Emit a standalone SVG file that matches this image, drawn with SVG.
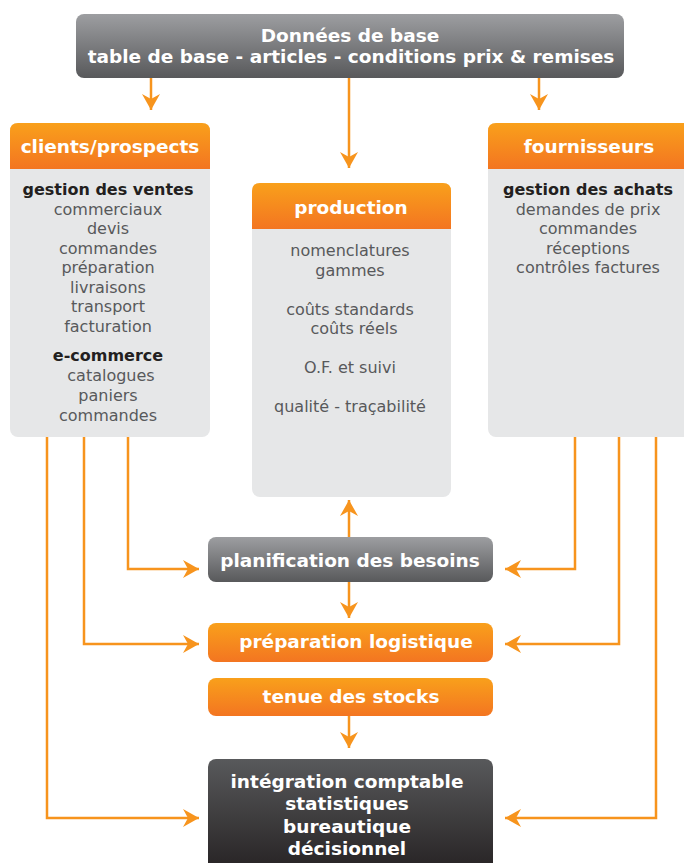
<svg xmlns="http://www.w3.org/2000/svg" width="684" height="863" viewBox="0 0 684 863">
<defs>
<linearGradient id="gOr" x1="0" y1="0" x2="0" y2="1"><stop offset="0" stop-color="#f9a01b"/><stop offset="1" stop-color="#f37521"/></linearGradient>
<linearGradient id="gGr" x1="0" y1="0" x2="0" y2="1"><stop offset="0" stop-color="#9d9ea1"/><stop offset="1" stop-color="#58595b"/></linearGradient>
<linearGradient id="gDk" x1="0" y1="0" x2="0" y2="1"><stop offset="0" stop-color="#58595b"/><stop offset="1" stop-color="#231f20"/></linearGradient>
<marker id="ah" markerUnits="userSpaceOnUse" markerWidth="20" markerHeight="20" viewBox="-17 -10 18 20" refX="0" refY="0" orient="auto">
<path d="M0,0 L-16,-9 L-11,0 L-16,9 Z" fill="#f7941d"/>
</marker>
</defs>
<style>
.t{font-family:"DejaVu Sans",Verdana,sans-serif;text-anchor:middle}
.h{font-weight:bold;font-size:18.5px;fill:#ffffff}
.b{font-weight:bold;font-size:16px;fill:#231f20}
.r{font-size:16px;fill:#58595b}
.body{fill:#e6e7e8}
.c{fill:none;stroke:#f7941d;stroke-width:2.5;marker-end:url(#ah)}
</style>
<g id="connectors">
<path class="c" d="M151,78 V110"/>
<path class="c" d="M349,78 V168"/>
<path class="c" d="M539,78 V110"/>
<path class="c" d="M349,537 V500"/>
<path class="c" d="M349,582 V618"/>
<path class="c" d="M349,716 V748"/>
<path class="c" d="M128,437 V569 H199"/>
<path class="c" d="M84,437 V644 H199"/>
<path class="c" d="M47,437 V818 H199"/>
<path class="c" d="M575,437 V569 H505"/>
<path class="c" d="M619,437 V644 H505"/>
<path class="c" d="M656,437 V818 H505"/>
</g>
<g id="donnees">
<rect x="76" y="14" width="548" height="64" rx="8" fill="url(#gGr)"/>
<text class="t h" x="350" y="42">Données de base</text>
<text class="t h" x="351" y="63">table de base - articles - conditions prix &amp; remises</text>
</g>
<g id="clients">
<rect class="body" x="10" y="123" width="200" height="314" rx="8"/>
<path d="M10,169 V131 Q10,123 18,123 H202 Q210,123 210,131 V169 Z" fill="url(#gOr)"/>
<text class="t h" x="110" y="153">clients/prospects</text>
<text class="t b" x="108" y="195">gestion des ventes</text>
<text class="t r" x="108" y="215">commerciaux</text>
<text class="t r" x="108" y="234">devis</text>
<text class="t r" x="108" y="254">commandes</text>
<text class="t r" x="108" y="273">préparation</text>
<text class="t r" x="108" y="293">livraisons</text>
<text class="t r" x="108" y="312">transport</text>
<text class="t r" x="108" y="332">facturation</text>
<text class="t b" x="108" y="361">e-commerce</text>
<text class="t r" x="111" y="381">catalogues</text>
<text class="t r" x="108" y="401">paniers</text>
<text class="t r" x="108" y="421">commandes</text>
</g>
<g id="production">
<rect class="body" x="252" y="183" width="199" height="314" rx="8"/>
<path d="M252,229 V191 Q252,183 260,183 H443 Q451,183 451,191 V229 Z" fill="url(#gOr)"/>
<text class="t h" x="351" y="214">production</text>
<text class="t r" x="350" y="256">nomenclatures</text>
<text class="t r" x="350" y="276">gammes</text>
<text class="t r" x="350" y="315">coûts standards</text>
<text class="t r" x="354" y="334">coûts réels</text>
<text class="t r" x="350" y="373">O.F. et suivi</text>
<text class="t r" x="350" y="412">qualité - traçabilité</text>
</g>
<g id="fournisseurs">
<rect class="body" x="488" y="123" width="204" height="314" rx="8"/>
<path d="M488,169 V131 Q488,123 496,123 H684 Q692,123 692,131 V169 Z" fill="url(#gOr)"/>
<text class="t h" x="589" y="153">fournisseurs</text>
<text class="t b" x="588" y="195">gestion des achats</text>
<text class="t r" x="588" y="215">demandes de prix</text>
<text class="t r" x="588" y="234">commandes</text>
<text class="t r" x="588" y="254">réceptions</text>
<text class="t r" x="588" y="273">contrôles factures</text>
</g>
<g id="planification">
<rect x="208" y="537" width="285" height="45" rx="8" fill="url(#gGr)"/>
<text class="t h" x="350" y="567">planification des besoins</text>
</g>
<g id="preparation">
<rect x="208" y="623" width="285" height="39" rx="8" fill="url(#gOr)"/>
<text class="t h" x="356" y="648">préparation logistique</text>
</g>
<g id="stocks">
<rect x="208" y="678" width="285" height="38" rx="8" fill="url(#gOr)"/>
<text class="t h" x="351" y="703">tenue des stocks</text>
</g>
<g id="integration">
<rect x="208" y="759" width="285" height="120" rx="8" fill="url(#gDk)"/>
<text class="t h" x="347" y="788">intégration comptable</text>
<text class="t h" x="347" y="810">statistiques</text>
<text class="t h" x="347" y="833">bureautique</text>
<text class="t h" x="347" y="855">décisionnel</text>
</g>
</svg>
